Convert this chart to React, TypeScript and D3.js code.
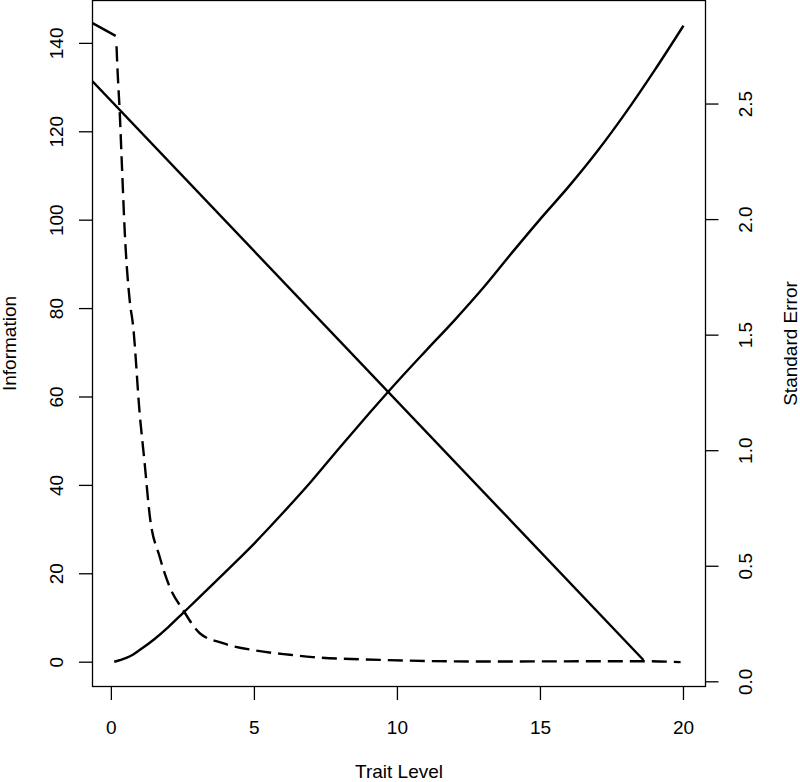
import * as d3 from 'd3';

// test information curve (left axis)
const traitLevels = [0.1, 0.5, 0.75, 1, 1.5, 2, 2.5, 3, 4, 5, 6, 7, 8, 9, 10, 11, 12, 13, 14, 15, 16, 17, 18, 19, 20];
const information = [0.1, 0.9, 1.7, 2.8, 5.2, 8.0, 11.1, 14.2, 20.5, 26.9, 33.8, 41.0, 48.7, 56.2, 63.5, 70.5, 77.4, 84.7, 92.6, 100.3, 107.7, 115.7, 124.5, 134.0, 144.0];

// straight solid line (left axis)
const trendTrait = [-0.66, 18.6];
const trendInfo = [131.4, 0.5];

// short solid piece at top left (left axis)
const capTrait = [-0.66, 0.15];
const capInfo = [144.6, 141.7];

// standard error, dashed (right axis)
const seTrait = [0.18, 0.21, 0.29, 0.37, 0.47, 0.64, 0.76, 0.99, 1.16, 1.34, 1.69, 2.04, 2.51, 3.09, 3.9, 5.07, 6.24, 7.05, 9.39, 12.9, 18.6, 19.9];
const standardError = [2.75, 2.66, 2.47, 2.23, 1.94, 1.65, 1.54, 1.16, 0.95, 0.72, 0.54, 0.41, 0.31, 0.21, 0.167, 0.135, 0.117, 0.107, 0.095, 0.088, 0.089, 0.085];

const xTicks = [0, 5, 10, 15, 20];
const infoTicks = [0, 20, 40, 60, 80, 100, 120, 140];
const seTicks = [0, 0.5, 1, 1.5, 2, 2.5];

const W = 800;
const H = 782;
const left = 92.5, right = 705.5, top = 0.5, bottom = 686.5;
const font = 'Liberation Sans, Arial, Helvetica, sans-serif';
const fs = 19;

export default function App() {
  const x = d3.scaleLinear().domain([-0.66, 20.77]).range([left, right]);
  const yL = d3.scaleLinear().domain([-5.5, 149.7]).range([bottom, top]);
  const yR = d3.scaleLinear().domain([-0.0203, 2.948]).range([bottom, top]);

  const lineL = (xs: number[], ys: number[], curve = d3.curveLinear) =>
    d3.line<number>().x((_, i) => x(xs[i])).y((d) => yL(d)).curve(curve)(ys) || '';
  const seLine = d3.line<number>()
    .x((_, i) => x(seTrait[i]))
    .y((d) => yR(d))
    .curve(d3.curveMonotoneX)(standardError) || '';

  return (
    <svg width={W} height={H} style={{ position: 'absolute', left: 0, top: 0 }} fontFamily={font}>
      <rect width={W} height={H} fill="white" />
      <defs>
        <clipPath id="plotArea">
          <rect x={left} y={top} width={right - left} height={bottom - top} />
        </clipPath>
      </defs>
      <g clipPath="url(#plotArea)" fill="none" stroke="black" strokeWidth={2.4}>
        <path d={lineL(traitLevels, information, d3.curveMonotoneX)} strokeLinejoin="round" />
        <path d={lineL(trendTrait, trendInfo)} />
        <path d={lineL(capTrait, capInfo)} />
        <path d={seLine} strokeDasharray="15 7" />
      </g>
      <rect x={left} y={top} width={right - left} height={bottom - top} fill="none" stroke="black" strokeWidth={1.3} />

      {/* bottom axis */}
      {xTicks.map((t) => (
        <g key={'x' + t}>
          <line x1={x(t)} x2={x(t)} y1={bottom} y2={700} stroke="black" strokeWidth={1.3} />
          <text x={x(t)} y={733.5} fontSize={fs} textAnchor="middle">{t}</text>
        </g>
      ))}
      <text x={(left + right) / 2} y={778} fontSize={fs} textAnchor="middle">Trait Level</text>

      {/* left axis */}
      {infoTicks.map((t) => (
        <g key={'l' + t}>
          <line x1={79} x2={left} y1={yL(t)} y2={yL(t)} stroke="black" strokeWidth={1.3} />
          <text transform={`translate(56.7,${yL(t)}) rotate(-90)`} dy="0.35em" fontSize={fs} textAnchor="middle">{t}</text>
        </g>
      ))}
      <text transform={`translate(16,${(top + bottom) / 2}) rotate(-90)`} fontSize={fs} textAnchor="middle">Information</text>

      {/* right axis */}
      {seTicks.map((t) => (
        <g key={'r' + t}>
          <line x1={right} x2={718.5} y1={yR(t)} y2={yR(t)} stroke="black" strokeWidth={1.3} />
          <text transform={`translate(745,${yR(t)}) rotate(-90)`} dy="0.35em" fontSize={fs} textAnchor="middle">{t.toFixed(1)}</text>
        </g>
      ))}
      <text transform={`translate(797,${(top + bottom) / 2}) rotate(-90)`} fontSize={fs} textAnchor="middle">Standard Error</text>
    </svg>
  );
}
